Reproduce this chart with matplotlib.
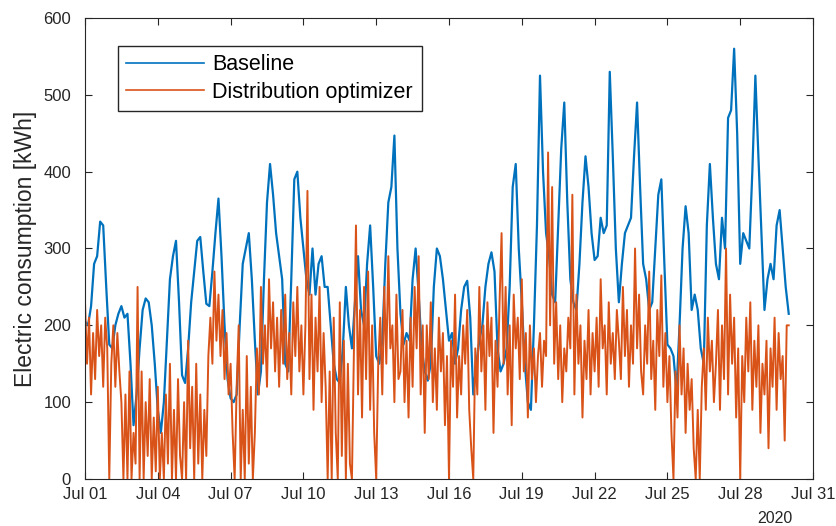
import matplotlib
matplotlib.use("Agg")
import matplotlib.pyplot as plt
import matplotlib.dates as mdates
import pandas as pd
import numpy as np

# Baseline consumption, 3-hourly from 2020-07-01 00:00 (kWh)
baseline = [
    205, 200, 225, 280, 290, 335, 330, 250,   # Jul 01
    175, 170, 200, 215, 225, 210, 215, 150,   # Jul 02
    70, 110, 170, 220, 235, 230, 200, 150,    # Jul 03
    90, 60, 100, 180, 260, 290, 310, 230,     # Jul 04
    135, 125, 170, 230, 270, 310, 315, 270,   # Jul 05
    228, 225, 270, 320, 365, 290, 200, 130,   # Jul 06
    105, 100, 110, 200, 280, 300, 320, 260,   # Jul 07
    180, 110, 140, 260, 360, 410, 370, 320,   # Jul 08
    290, 260, 150, 140, 260, 390, 400, 340,   # Jul 09
    300, 260, 240, 300, 240, 280, 290, 250,   # Jul 10
    250, 200, 150, 130, 125, 170, 250, 200,   # Jul 11
    170, 230, 290, 220, 200, 280, 330, 250,   # Jul 12
    160, 150, 180, 280, 360, 380, 447, 300,   # Jul 13
    215, 175, 190, 180, 260, 300, 240, 170,   # Jul 14
    140, 128, 150, 250, 300, 290, 260, 220,   # Jul 15
    180, 190, 150, 170, 220, 250, 258, 210,   # Jul 16
    110, 150, 180, 200, 250, 280, 295, 270,   # Jul 17
    170, 140, 150, 170, 250, 380, 410, 300,   # Jul 18
    230, 150, 100, 90, 200, 330, 525, 400,    # Jul 19
    320, 290, 240, 230, 330, 430, 490, 360,   # Jul 20
    260, 230, 220, 280, 360, 420, 380, 320,   # Jul 21
    285, 290, 340, 320, 330, 530, 420, 300,   # Jul 22
    230, 280, 320, 330, 340, 420, 490, 380,   # Jul 23
    280, 260, 220, 230, 300, 370, 390, 280,   # Jul 24
    175, 170, 160, 115, 200, 300, 355, 320,   # Jul 25
    220, 240, 220, 170, 150, 330, 410, 340,   # Jul 26
    280, 260, 340, 300, 470, 480, 560, 450,   # Jul 27
    280, 320, 310, 300, 400, 525, 420, 320,   # Jul 28
    220, 260, 280, 260, 330, 350, 300, 250,   # Jul 29
    215,
]

# Distribution optimizer consumption, 2-hourly from 2020-07-01 00:00 (kWh)
optimizer = [
    230, 150, 210, 110, 190, 130, 220, 160, 200, 120, 210, 170,   # Jul 01
    0, 150, 200, 120, 190, 140, 100, 0, 110, 0, 140, 0,           # Jul 02
    60, 20, 250, 0, 140, 0, 100, 30, 130, 0, 80, 10,              # Jul 03
    120, 0, 60, 0, 110, 20, 150, 0, 90, 0, 130, 30,               # Jul 04
    0, 100, 0, 180, 40, 120, 0, 150, 20, 110, 0, 90,              # Jul 05
    30, 160, 210, 150, 270, 180, 240, 160, 220, 130, 190, 110,    # Jul 06
    150, 60, 0, 120, 200, 0, 90, 0, 160, 20, 120, 0,              # Jul 07
    60, 170, 110, 250, 150, 200, 120, 260, 170, 230, 140, 210,    # Jul 08
    120, 220, 150, 240, 130, 190, 110, 230, 160, 250, 140, 200,   # Jul 09
    110, 200, 375, 130, 240, 90, 210, 140, 250, 100, 190, 120,    # Jul 10
    0, 140, 0, 210, 60, 0, 230, 30, 180, 0, 150, 20,              # Jul 11
    0, 170, 330, 110, 220, 80, 250, 130, 270, 90, 200, 60,        # Jul 12
    0, 150, 210, 110, 250, 150, 290, 170, 200, 100, 240, 130,     # Jul 13
    140, 220, 100, 180, 80, 210, 120, 250, 170, 290, 110, 200,    # Jul 14
    60, 200, 130, 230, 100, 170, 90, 210, 140, 190, 70, 160,      # Jul 15
    0, 180, 120, 240, 80, 160, 110, 200, 150, 220, 90, 40,        # Jul 16
    0, 170, 110, 250, 140, 200, 90, 230, 160, 210, 60, 180,       # Jul 17
    120, 230, 320, 150, 250, 110, 200, 70, 240, 170, 210, 130,    # Jul 18
    260, 140, 190, 80, 200, 130, 170, 100, 160, 190, 120, 180,    # Jul 19
    160, 425, 200, 380, 150, 230, 130, 200, 100, 170, 140, 210,   # Jul 20
    170, 370, 110, 240, 150, 200, 80, 180, 130, 220, 110, 190,    # Jul 21
    140, 210, 120, 260, 170, 200, 110, 230, 150, 190, 130, 220,   # Jul 22
    180, 130, 250, 160, 220, 120, 200, 150, 300, 170, 240, 140,   # Jul 23
    110, 200, 150, 270, 130, 180, 90, 220, 160, 265, 120, 190,    # Jul 24
    100, 160, 60, 0, 140, 80, 200, 110, 170, 60, 150, 90,         # Jul 25
    130, 40, 0, 90, 0, 120, 170, 90, 210, 140, 180, 100,          # Jul 26
    150, 220, 90, 200, 130, 300, 110, 240, 150, 210, 80, 170,     # Jul 27
    0, 160, 100, 210, 140, 230, 90, 180, 120, 200, 60, 150,       # Jul 28
    110, 180, 40, 170, 120, 210, 90, 190, 130, 160, 50, 200,      # Jul 29
    200,
]

series_names = ["Baseline", "Distribution optimizer"]
start = "2020-07-01"
t_base = pd.date_range(start, periods=len(baseline), freq="3h")
t_opt = pd.date_range(start, periods=len(optimizer), freq="2h")

plt.rcParams["font.family"] = ["Liberation Sans", "DejaVu Sans"]
dark = "#262626"

fig = plt.figure(figsize=(8.36, 5.26), dpi=100)
ax = fig.add_axes([85/836, 47/526, 728/836, 461/526])

ax.plot(t_base, baseline, color="#0072BD", lw=1.6, label=series_names[0])
ax.plot(t_opt, optimizer, color="#D95319", lw=1.4, label=series_names[1])

ax.set_xlim(pd.Timestamp("2020-07-01"), pd.Timestamp("2020-07-31"))
ax.set_ylim(0, 600)
ax.set_yticks(np.arange(0, 601, 100))
ax.xaxis.set_major_locator(mdates.DayLocator(bymonthday=[1, 4, 7, 10, 13, 16, 19, 22, 25, 28, 31]))
ax.xaxis.set_major_formatter(mdates.DateFormatter("%b %d"))

ax.tick_params(direction="in", top=True, right=True, length=5, width=0.8,
               colors=dark, labelsize=12, labelcolor=dark)
ax.tick_params(axis="y", pad=10)
ax.tick_params(axis="x", pad=6)
for s in ax.spines.values():
    s.set_color(dark)
    s.set_linewidth(0.8)

ax.set_ylabel("Electric consumption [kWh]", fontsize=16.5, color=dark)
ax.yaxis.set_label_coords(-0.066, 0.5)

ax.text(0.948, -0.085, "2020", transform=ax.transAxes, ha="center", va="center",
        fontsize=11.5, color=dark)

leg = ax.legend(loc="upper left", bbox_to_anchor=(0.045, 0.94), borderaxespad=0,
                fancybox=False, edgecolor=dark, fontsize=15.5, handlelength=3.6,
                handletextpad=0.4, borderpad=0.4, labelspacing=0.3, framealpha=1)
leg.get_frame().set_linewidth(1.0)
for line in leg.get_lines():
    line.set_linewidth(1.2)

fig.savefig("out.png", dpi=100)
